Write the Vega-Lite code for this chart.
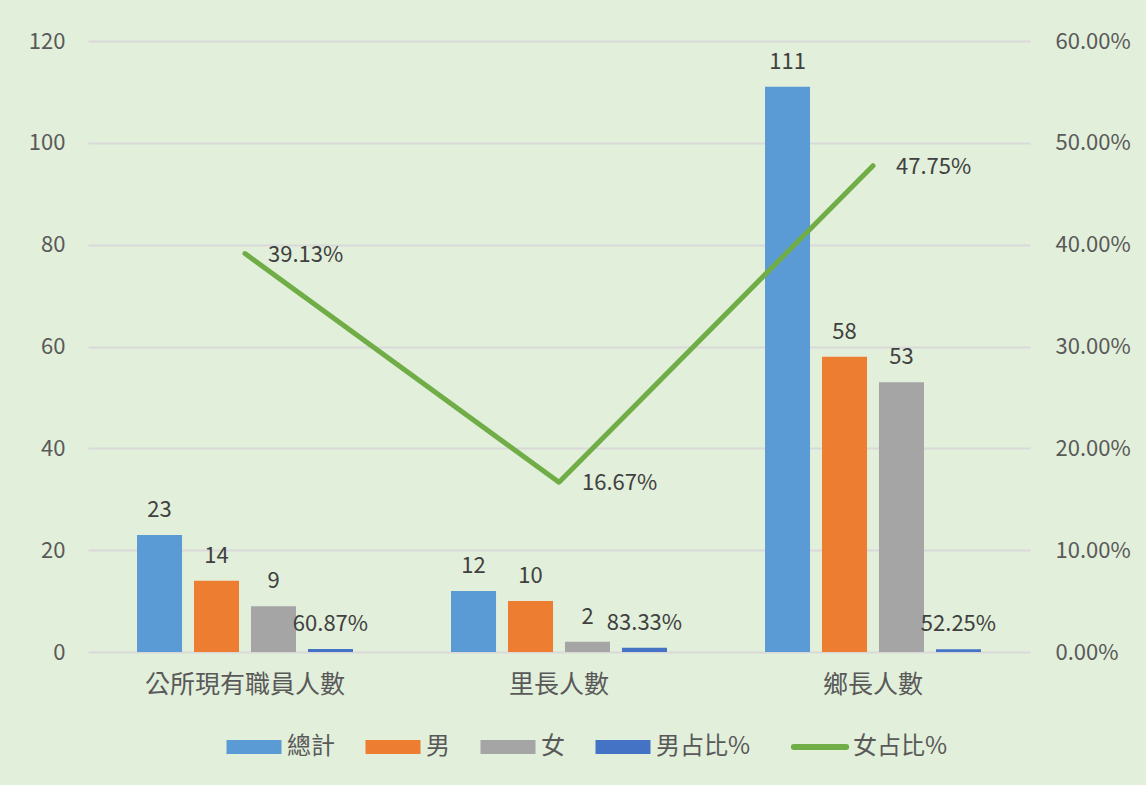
{
  "$schema": "https://vega.github.io/schema/vega-lite/v6.json",
  "width": 942,
  "height": 611,
  "autosize": {"type": "none"},
  "padding": {"left": 88, "top": 41, "right": 116, "bottom": 133},
  "background": "#E2EFDA",
  "config": {
    "font": "Noto Sans CJK TC",
    "view": {"stroke": null},
    "axis": {"labelFont": "Noto Sans CJK TC", "labelColor": "#595959", "domain": false, "ticks": false, "title": null}
  },
  "datasets": {
    "bars": [
      {"cat": "公所現有職員人數", "series": "總計", "value": 23, "label": "23"},
      {"cat": "公所現有職員人數", "series": "男", "value": 14, "label": "14"},
      {"cat": "公所現有職員人數", "series": "女", "value": 9, "label": "9"},
      {"cat": "公所現有職員人數", "series": "男占比%", "value": 0.6087, "label": "60.87%"},
      {"cat": "里長人數", "series": "總計", "value": 12, "label": "12"},
      {"cat": "里長人數", "series": "男", "value": 10, "label": "10"},
      {"cat": "里長人數", "series": "女", "value": 2, "label": "2"},
      {"cat": "里長人數", "series": "男占比%", "value": 0.8333, "label": "83.33%"},
      {"cat": "鄉長人數", "series": "總計", "value": 111, "label": "111"},
      {"cat": "鄉長人數", "series": "男", "value": 58, "label": "58"},
      {"cat": "鄉長人數", "series": "女", "value": 53, "label": "53"},
      {"cat": "鄉長人數", "series": "男占比%", "value": 0.5225, "label": "52.25%"}
    ],
    "line": [
      {"cat": "公所現有職員人數", "series": "女占比%", "pct": 0.3913, "label": "39.13%"},
      {"cat": "里長人數", "series": "女占比%", "pct": 0.1667, "label": "16.67%"},
      {"cat": "鄉長人數", "series": "女占比%", "pct": 0.4775, "label": "47.75%"}
    ]
  },
  "encoding": {
    "x": {
      "field": "cat", "type": "nominal", "sort": null,
      "scale": {"domain": ["公所現有職員人數", "里長人數", "鄉長人數"], "paddingInner": 0, "paddingOuter": 0},
      "axis": {"labelAngle": 0, "labelFontSize": 25, "labelPadding": 20, "labelLimit": 500, "grid": false}
    }
  },
  "layer": [
    {
      "data": {"name": "bars"},
      "encoding": {
        "y": {
          "field": "value", "type": "quantitative",
          "scale": {"domain": [0, 120], "nice": false},
          "axis": {"values": [0, 20, 40, 60, 80, 100, 120], "labelFontSize": 22, "labelPadding": 23, "grid": true, "gridColor": "#D9D9D9", "gridWidth": 2}
        },
        "xOffset": {
          "field": "series", "type": "nominal",
          "scale": {"domain": ["總計", "男", "女", "男占比%"], "paddingInner": 0.21, "paddingOuter": 0.86}
        }
      },
      "layer": [
        {
          "mark": {"type": "bar"},
          "encoding": {
            "color": {
              "field": "series", "type": "nominal",
              "scale": {"domain": ["總計", "男", "女", "男占比%", "女占比%"], "range": ["#5B9BD5", "#ED7D31", "#A5A5A5", "#4472C4", "#70AD47"]},
              "legend": {
                "title": null,
                "orient": "none",
                "direction": "horizontal",
                "legendX": 154,
                "legendY": 694,
                "labelFontSize": 24,
                "labelColor": "#595959",
                "labelFont": "Noto Sans CJK TC",
                "labelOffset": 21,
                "columnPadding": 30,
                "symbolSize": 3025,
                "encode": {
                  "symbols": {
                    "update": {
                      "shape": {"signal": "datum.value === '女占比%' ? 'M-0.95,0H0.95' : 'M-1,-0.255H1V0.255H-1Z'"},
                      "fill": {"signal": "datum.value === '女占比%' ? 'transparent' : scale('color', datum.value)"},
                      "stroke": {"signal": "scale('color', datum.value)"},
                      "strokeWidth": {"signal": "datum.value === '女占比%' ? 6 : 0"},
                      "strokeCap": {"value": "round"},
                      "opacity": {"value": 1},
                      "fillOpacity": {"value": 1}
                    }
                  }
                }
              }
            }
          }
        },
        {
          "mark": {"type": "text", "baseline": "alphabetic", "dy": -18, "fontSize": 22, "color": "#404040"},
          "encoding": {"text": {"field": "label"}}
        }
      ]
    },
    {
      "data": {"name": "line"},
      "encoding": {
        "y": {
          "field": "pct", "type": "quantitative",
          "scale": {"domain": [0, 0.6], "nice": false},
          "axis": {"orient": "right", "format": ".2%", "values": [0, 0.1, 0.2, 0.3, 0.4, 0.5, 0.6], "labelFontSize": 22, "labelPadding": 25, "grid": false}
        }
      },
      "layer": [
        {
          "mark": {"type": "line", "strokeWidth": 5, "strokeCap": "round", "strokeJoin": "round"},
          "encoding": {
            "color": {"field": "series", "type": "nominal"}
          }
        },
        {
          "mark": {"type": "text", "align": "left", "baseline": "middle", "dx": 23, "dy": 1, "fontSize": 22, "color": "#404040"},
          "encoding": {"text": {"field": "label"}}
        }
      ]
    }
  ],
  "resolve": {"scale": {"y": "independent"}}
}
